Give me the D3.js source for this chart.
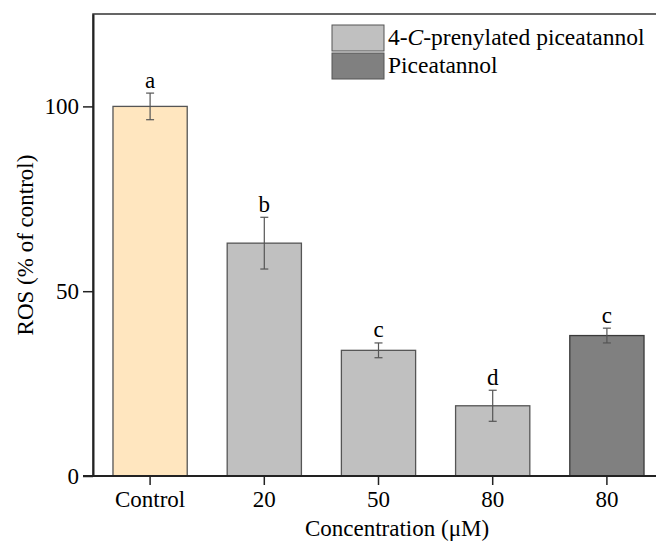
<!DOCTYPE html>
<html>
<head>
<meta charset="utf-8">
<script src="https://cdn.jsdelivr.net/npm/d3@7"></script>
<style>
  body { margin: 0; background: #fff; }
  text { font-family: "Liberation Serif", "Times New Roman", serif; fill: #000; }
</style>
</head>
<body>
<div id="graph"></div>
<script>
var categories = ["Control", "20", "50", "80", "80 "]
var tickLabels = ["Control", "20", "50", "80", "80"]
var values = [100, 63, 34, 19, 38]
var errors = [3.6, 7, 2, 4.2, 2]
var letters = ["a", "b", "c", "d", "c"]
var groups = ["control", "prenyl", "prenyl", "prenyl", "pic"]
var yTicks = [0, 50, 100]

var legendNames = ["4-C-prenylated piceatannol", "Piceatannol"]
var colors = { control: "#ffe6bf", prenyl: "#c0c0c0", pic: "#808080" }

function draw()
{
    const width = 656, height = 545
    const margin = { left: 93, top: 14, right: -8, bottom: 69 }

    const svg = d3.select("#graph")
        .append("svg")
            .attr("width", width)
            .attr("height", height)

    const x = d3.scaleBand().domain(categories)
        .range([margin.left, width - margin.right]).paddingInner(0.35).paddingOuter(0.175)
    const y = d3.scaleLinear().domain([0, 125]).range([height - margin.bottom, margin.top])

    // frame
    svg.append("rect")
        .attr("x", margin.left).attr("y", margin.top)
        .attr("width", width - margin.right - margin.left)
        .attr("height", y(0) - margin.top)
        .attr("fill", "none").attr("stroke", "#333").attr("stroke-width", 1.5)

    // bars
    svg.append("g").selectAll("rect")
        .data(values)
        .enter().append("rect")
            .attr("x", (d, i) => x(categories[i]))
            .attr("y", d => y(d))
            .attr("width", x.bandwidth())
            .attr("height", d => y(0) - y(d))
            .attr("fill", (d, i) => colors[groups[i]])
            .attr("stroke", (d, i) => groups[i] == "pic" ? "#3a3a3a" : "#555")
            .attr("stroke-width", 1.3)

    // error bars
    const eb = svg.append("g").attr("stroke", "#555").attr("stroke-width", 1.2)
    values.forEach((v, i) => {
        const cx = x(categories[i]) + x.bandwidth() / 2
        eb.append("line").attr("x1", cx).attr("x2", cx).attr("y1", y(v + errors[i])).attr("y2", y(v - errors[i]))
        eb.append("line").attr("x1", cx - 4).attr("x2", cx + 4).attr("y1", y(v + errors[i])).attr("y2", y(v + errors[i]))
        eb.append("line").attr("x1", cx - 4).attr("x2", cx + 4).attr("y1", y(v - errors[i])).attr("y2", y(v - errors[i]))
        svg.append("text")
            .attr("x", cx).attr("y", y(v + errors[i]) - 5.5)
            .attr("text-anchor", "middle")
            .style("font-size", "23px")
            .text(letters[i])
    })

    // axes
    const xAxis = svg.append("g")
        .attr("transform", `translate(0, ${y(0)})`)
        .call(d3.axisBottom(x).tickSize(9).tickSizeOuter(0).tickFormat((d, i) => tickLabels[i]))
    xAxis.select(".domain").attr("stroke", "#222").attr("stroke-width", 2)
        .attr("d", `M${margin.left - 10},0H${width}`)
    xAxis.selectAll(".tick line").attr("stroke", "#222").attr("stroke-width", 1.5)
    xAxis.selectAll(".tick text").attr("y", 13).attr("dy", "0.8em").style("font-size", "23px").attr("fill", "#000")

    const yAxis = svg.append("g")
        .attr("transform", `translate(${margin.left}, 0)`)
        .call(d3.axisLeft(y).tickValues(yTicks).tickSize(10).tickSizeOuter(0))
    yAxis.select(".domain").attr("stroke", "#222").attr("stroke-width", 2)
    yAxis.selectAll(".tick line").attr("stroke", "#222").attr("stroke-width", 1.5)
    yAxis.selectAll(".tick text").attr("x", -14).style("font-size", "23px").attr("fill", "#000")

    // axis titles
    svg.append("text")
        .attr("x", 397).attr("y", 536)
        .attr("text-anchor", "middle")
        .style("font-size", "23px")
        .text("Concentration (\u03bcM)")

    svg.append("text")
        .attr("transform", "translate(33, 245) rotate(-90)")
        .attr("text-anchor", "middle")
        .style("font-size", "23px")
        .text("ROS (% of control)")

    // legend
    const leg = svg.append("g")
    const legColors = [colors.prenyl, colors.pic]
    legendNames.forEach((name, i) => {
        const ly = 25 + i * 28
        leg.append("rect")
            .attr("x", 332).attr("y", ly).attr("width", 52).attr("height", 26)
            .attr("fill", legColors[i]).attr("stroke", "#555").attr("stroke-width", 1)
        const t = leg.append("text").attr("x", 388).attr("y", ly + 20).style("font-size", "23.5px")
        if (i == 0) {
            t.append("tspan").text("4-")
            t.append("tspan").style("font-style", "italic").text("C")
            t.append("tspan").text("-prenylated piceatannol")
        } else {
            t.text(name)
        }
    })
}

draw()
</script>
</body>
</html>
